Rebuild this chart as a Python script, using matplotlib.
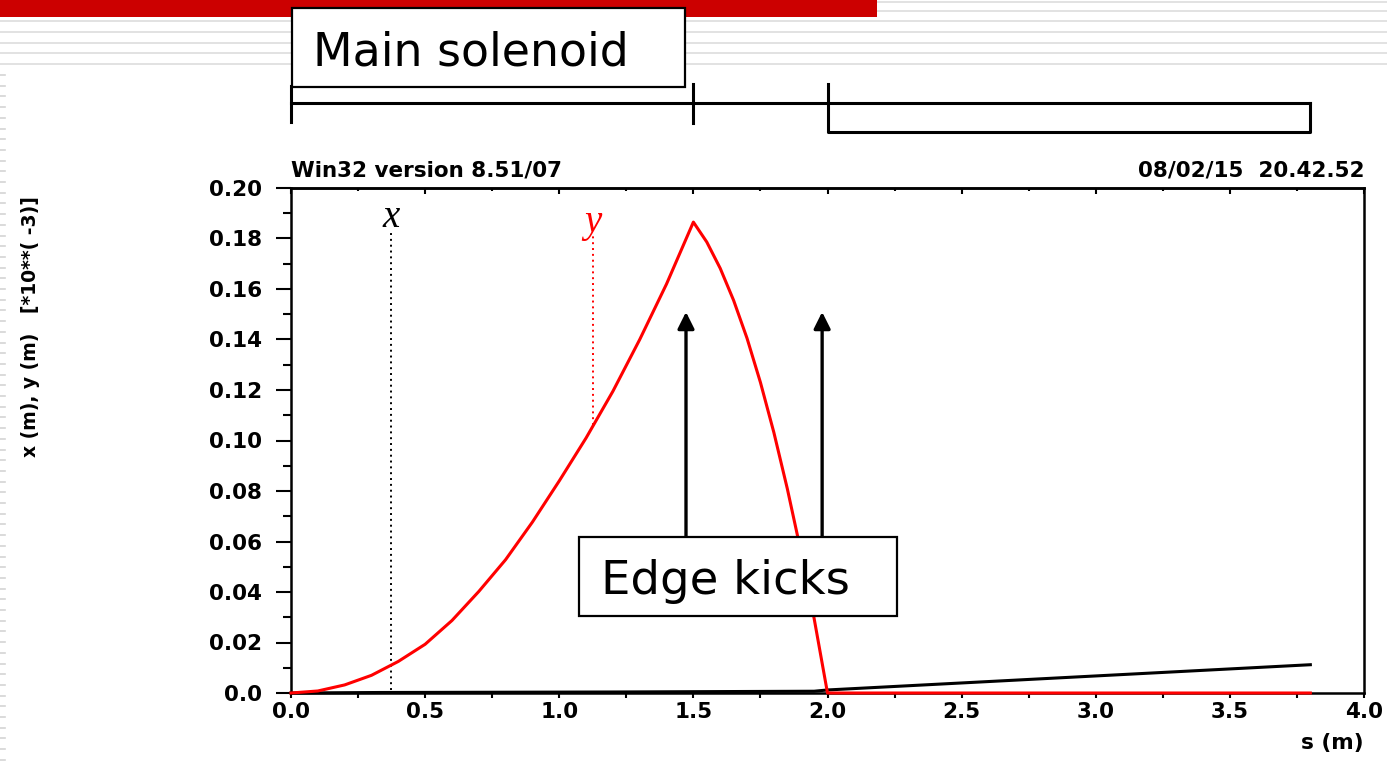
import numpy as np
import matplotlib.pyplot as plt
from matplotlib.patches import Rectangle
from matplotlib.lines import Line2D
from matplotlib.ticker import MultipleLocator, FuncFormatter
import matplotlib.transforms as mtransforms

# =========================
# データ
# =========================
s_y = [0.0, 0.1, 0.2, 0.3, 0.4, 0.5, 0.6, 0.7, 0.8, 0.9, 1.0, 1.1, 1.2, 1.3,
       1.4, 1.5, 1.55, 1.6, 1.65, 1.7, 1.75, 1.8, 1.85, 1.9, 1.95, 2.0, 3.8]
y_orbit = [0.0, 0.0008, 0.0032, 0.0070, 0.0125, 0.0193, 0.0287, 0.0402, 0.0528,
           0.0677, 0.0840, 0.1010, 0.1195, 0.1400, 0.1620, 0.1865, 0.1786,
           0.1682, 0.1555, 0.1405, 0.1230, 0.1032, 0.0810, 0.0565, 0.0296,
           0.0, 0.0]

s_x = [0.0, 0.33, 1.2, 1.95, 2.0, 3.8]
x_orbit = [0.0, 0.0002, 0.0004, 0.0007, 0.0012, 0.0112]

# マーカー位置 (s, 下端, 上端)
marker_x = (0.373, 0.0012, 0.1826)
marker_y = (1.125, 0.1060, 0.1822)

# 要素の境界 (ソレノイド, ドリフト)
elem_edges = [0.0, 1.5, 2.0, 3.8]

# エッジキックの矢印
kick_s = [1.4725, 1.98]
kick_from, kick_to = 0.0618, 0.1509

W, H = 1387, 765


def fx(px):
    return px / W


def fy(py):
    return 1 - py / H


# =========================
# 図の初期化
# =========================
fig = plt.figure(figsize=(W / 100, H / 100), dpi=100)
fig.patch.set_facecolor("white")

# スライドの背景装飾
for py in [1.5, 11, 21, 32, 42.5, 53, 64]:
    fig.add_artist(Line2D([0, 1], [fy(py), fy(py)], color="#e2e2e2", lw=1.4, zorder=0.5))
for py in np.arange(75, H, 10.7):
    fig.add_artist(Line2D([0, fx(5)], [fy(py), fy(py)], color="#d4d4d4", lw=1.2, zorder=0.5))
fig.add_artist(Rectangle((0, fy(17)), fx(877), 17 / H, transform=fig.transFigure,
                         facecolor="#cc0000", edgecolor="none", zorder=0.6))

ax = fig.add_axes([fx(291), 1 - 693 / H, fx(1364 - 291), (693 - 188) / H])

ax.plot(s_x, x_orbit, color="black", lw=2.2, zorder=2.6, clip_on=False)
ax.plot(s_y, y_orbit, color="#ff0000", lw=2.2, zorder=2.7, clip_on=False)

ax.plot([marker_x[0]] * 2, marker_x[1:], color="black", lw=1.4, ls=(0, (1, 2)))
ax.plot([marker_y[0]] * 2, marker_y[1:], color="#ff0000", lw=1.4, ls=(0, (1, 2)))
ax.text(marker_x[0], 0.1885, "x", family="Liberation Serif", style="italic",
        fontsize=28, ha="center", va="center", color="black")
ax.text(marker_y[0], 0.1865, "y", family="Liberation Serif", style="italic",
        fontsize=28, ha="center", va="center", color="#ff0000")

ax.set_xlim(0, 4.0)
ax.set_ylim(0, 0.20)
ax.xaxis.set_major_locator(MultipleLocator(0.5))
ax.xaxis.set_minor_locator(MultipleLocator(0.25))
ax.yaxis.set_major_locator(MultipleLocator(0.02))
ax.yaxis.set_minor_locator(MultipleLocator(0.01))
ax.xaxis.set_major_formatter(FuncFormatter(lambda v, p: f"{v:.1f}"))
ax.yaxis.set_major_formatter(FuncFormatter(lambda v, p: "0.0" if abs(v) < 1e-9 else f"{v:.2f}"))

for sp in ax.spines.values():
    sp.set_linewidth(1.8)

ax.tick_params(axis="y", which="major", direction="out", length=10.8, width=1.5,
               pad=10, labelsize=15.5)
ax.tick_params(axis="y", which="minor", direction="out", length=5.8, width=1.5)
ax.tick_params(axis="x", which="both", direction="out", length=3.5, width=1.5,
               pad=3, labelsize=15.5)
for lab in ax.get_xticklabels() + ax.get_yticklabels():
    lab.set_fontweight("bold")

top = ax.secondary_xaxis("top")
top.xaxis.set_major_locator(MultipleLocator(0.5))
top.xaxis.set_minor_locator(MultipleLocator(0.25))
top.tick_params(which="major", direction="in", length=4.5, width=1.5, labeltop=False)
top.tick_params(which="minor", direction="in", length=2.5, width=1.5)
top.spines["top"].set_linewidth(1.8)

ax.annotate("Win32 version 8.51/07", xy=(0, 1), xycoords="axes fraction",
            xytext=(0, 8.5), textcoords="offset points", ha="left", va="baseline",
            fontsize=15.5, fontweight="bold")
ax.annotate("08/02/15  20.42.52", xy=(1, 1), xycoords="axes fraction",
            xytext=(0, 8.5), textcoords="offset points", ha="right", va="baseline",
            fontsize=15.5, fontweight="bold")

fig.text(fx(1364), fy(743), "s (m)", ha="right", va="center", fontsize=15.5, fontweight="bold")
fig.text(fx(31), fy(327), "x (m), y (m)   [*10**( -3)]", rotation=90, ha="center",
         va="center", fontsize=13.5, fontweight="bold")

# =========================
# 要素レイアウト (上部)
# =========================
lay = mtransforms.blended_transform_factory(ax.transData, fig.transFigure)
lkw = dict(color="black", lw=2.2, transform=lay, clip_on=False)
ax.plot([elem_edges[0], elem_edges[3]], [fy(103), fy(103)], **lkw)
ax.plot([elem_edges[0]] * 2, [fy(86), fy(122)], **lkw)
ax.plot([elem_edges[1]] * 2, [fy(84), fy(123)], **lkw)
ax.plot([elem_edges[2], elem_edges[2], elem_edges[3], elem_edges[3]],
        [fy(84), fy(132), fy(132), fy(103)], **lkw)

# ボックス
fig.add_artist(Rectangle((fx(292), fy(87)), fx(685 - 292), (87 - 8) / H,
                         transform=fig.transFigure, facecolor="white",
                         edgecolor="black", lw=1.6, zorder=3))
fig.text(fx(313), fy(65), "Main solenoid", fontsize=33, ha="left", va="baseline", zorder=4)

fig.add_artist(Rectangle((fx(579), fy(616)), fx(897 - 579), (616 - 537) / H,
                         transform=fig.transFigure, facecolor="white",
                         edgecolor="black", lw=1.6, zorder=3))
fig.text(fx(601), fy(594), "Edge kicks", fontsize=33.5, ha="left", va="baseline", zorder=4)

for s in kick_s:
    ax.annotate("", xy=(s, kick_to), xytext=(s, kick_from),
                arrowprops=dict(arrowstyle="-|>,head_length=0.5,head_width=0.25",
                                mutation_scale=20, color="black", lw=2.4,
                                shrinkA=0, shrinkB=0))

fig.savefig("out.png", dpi=100)
